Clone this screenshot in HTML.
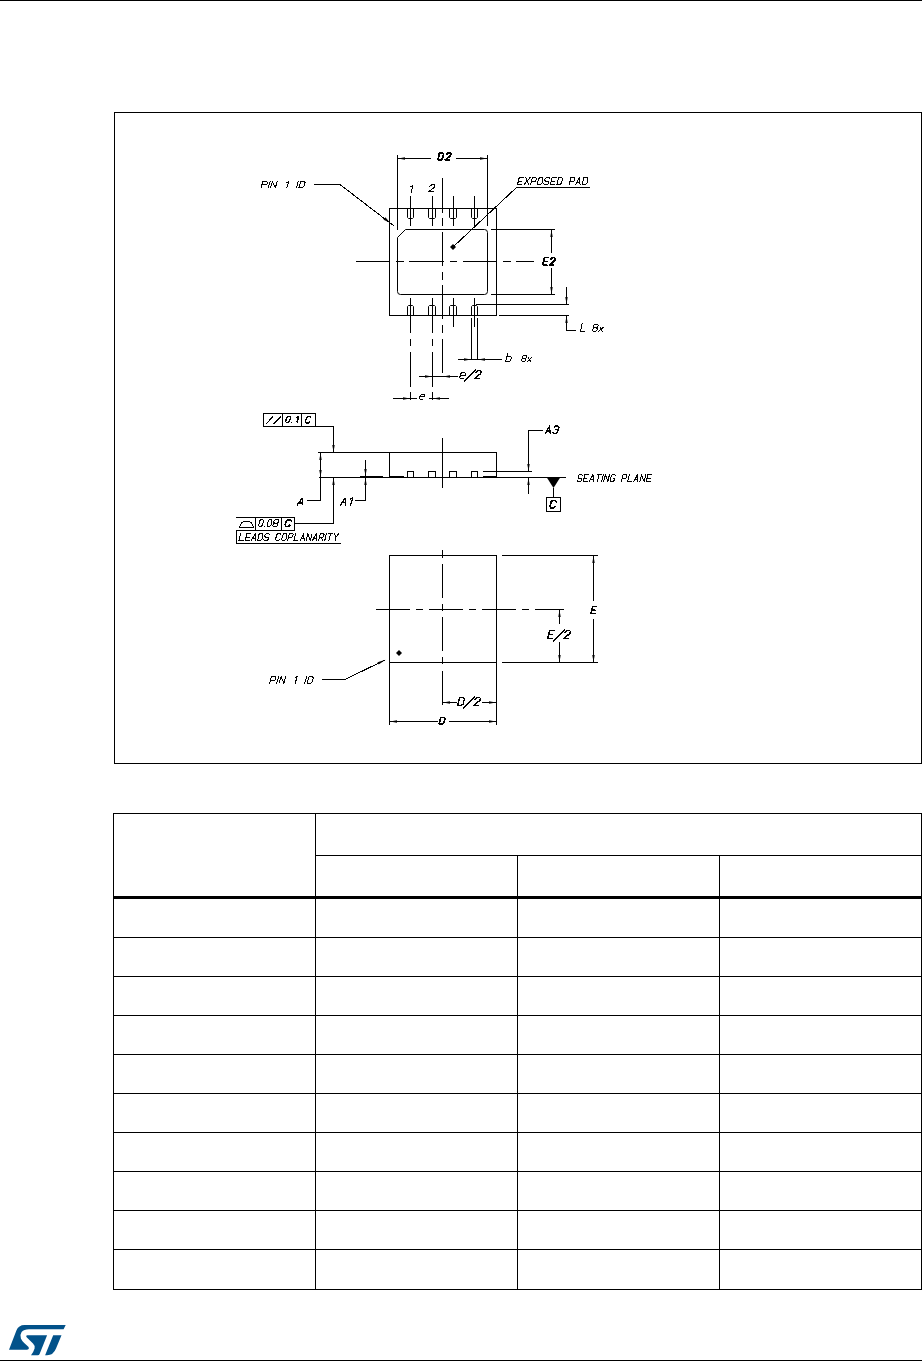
<!DOCTYPE html>
<html><head><meta charset="utf-8"><title>Package outline</title>
<style>
html,body{margin:0;padding:0;background:#fff;width:922px;height:1361px;overflow:hidden}
svg{position:absolute;left:0;top:0;display:block}
</style></head><body>
<svg width="922" height="1361" viewBox="0 0 922 1361"><g fill="#000"><rect x="0" y="0" width="922" height="1"/>
<rect x="0" y="1360" width="922" height="1"/>
<rect x="114" y="112" width="808" height="1"/>
<rect x="114" y="763" width="808" height="1"/>
<rect x="114" y="112" width="1" height="652"/>
<rect x="921" y="112" width="1" height="652"/>
<rect x="389" y="208" width="108" height="1"/>
<rect x="389" y="315" width="108" height="1"/>
<rect x="389" y="208" width="1" height="108"/>
<rect x="496" y="208" width="1" height="108"/>
<path d="M397.5,237.5 L405.5,229.5 L484.5,229.5 Q487.5,229.5 487.5,232.5 L487.5,291.5 Q487.5,294.5 484.5,294.5 L400.5,294.5 Q397.5,294.5 397.5,291.5 Z" fill="none" stroke="#000" stroke-width="1"/>
<path d="M407.5,208.5 L407.5,217.5 L408.5,218.5 L412.5,218.5 L413.5,217.5 L413.5,208.5" fill="none" stroke="#000" stroke-width="1"/>
<path d="M407.5,315.5 L407.5,306.5 L408.5,305.5 L412.5,305.5 L413.5,306.5 L413.5,315.5" fill="none" stroke="#000" stroke-width="1"/>
<path d="M428.5,208.5 L428.5,217.5 L429.5,218.5 L434.5,218.5 L435.5,217.5 L435.5,208.5" fill="none" stroke="#000" stroke-width="1"/>
<path d="M428.5,315.5 L428.5,306.5 L429.5,305.5 L434.5,305.5 L435.5,306.5 L435.5,315.5" fill="none" stroke="#000" stroke-width="1"/>
<path d="M449.5,208.5 L449.5,217.5 L450.5,218.5 L455.5,218.5 L456.5,217.5 L456.5,208.5" fill="none" stroke="#000" stroke-width="1"/>
<path d="M449.5,315.5 L449.5,306.5 L450.5,305.5 L455.5,305.5 L456.5,306.5 L456.5,315.5" fill="none" stroke="#000" stroke-width="1"/>
<path d="M471.5,208.5 L471.5,217.5 L472.5,218.5 L476.5,218.5 L477.5,217.5 L477.5,208.5" fill="none" stroke="#000" stroke-width="1"/>
<path d="M471.5,315.5 L471.5,306.5 L472.5,305.5 L476.5,305.5 L477.5,306.5 L477.5,315.5" fill="none" stroke="#000" stroke-width="1"/>
<rect x="410" y="196" width="1" height="30"/>
<rect x="432" y="196" width="1" height="30"/>
<rect x="453" y="196" width="1" height="30"/>
<rect x="474" y="196" width="1" height="30"/>
<rect x="453" y="298" width="1" height="29"/>
<rect x="474" y="298" width="1" height="29"/>
<rect x="410" y="298" width="1" height="35"/>
<rect x="410" y="339" width="1" height="7"/>
<rect x="410" y="352" width="1" height="35"/>
<rect x="410" y="392" width="1" height="8"/>
<rect x="432" y="298" width="1" height="35"/>
<rect x="432" y="339" width="1" height="7"/>
<rect x="432" y="352" width="1" height="35"/>
<rect x="432" y="392" width="1" height="8"/>
<rect x="442" y="178" width="1" height="35"/>
<rect x="442" y="218" width="1" height="8"/>
<rect x="442" y="232" width="1" height="34"/>
<rect x="442" y="272" width="1" height="8"/>
<rect x="442" y="285" width="1" height="34"/>
<rect x="442" y="325" width="1" height="8"/>
<rect x="442" y="339" width="1" height="34"/>
<rect x="356" y="261" width="34" height="1"/>
<rect x="396" y="261" width="8" height="1"/>
<rect x="409" y="261" width="35" height="1"/>
<rect x="450" y="261" width="7" height="1"/>
<rect x="463" y="261" width="34" height="1"/>
<rect x="503" y="261" width="8" height="1"/>
<rect x="516" y="261" width="18" height="1"/>
<rect x="397" y="155" width="1" height="75"/>
<rect x="487" y="155" width="1" height="71"/>
<rect x="397" y="158" width="34" height="1"/>
<rect x="456" y="158" width="32" height="1"/>
<polygon points="398,158.5 405,157.3 405,159.7"/>
<polygon points="487,158.5 480,157.3 480,159.7"/>
<rect x="491" y="229" width="64" height="1"/>
<rect x="491" y="294" width="64" height="1"/>
<rect x="551" y="230" width="1" height="23"/>
<rect x="551" y="268" width="1" height="27"/>
<polygon points="551.5,230 550.3,237 552.7,237"/>
<polygon points="551.5,294 550.3,287 552.7,287"/>
<rect x="476" y="304" width="93" height="1"/>
<rect x="499" y="315" width="70" height="1"/>
<rect x="566" y="287" width="1" height="18"/>
<rect x="566" y="315" width="1" height="16"/>
<rect x="566" y="330" width="10" height="1"/>
<polygon points="566.5,304 565.3,297 567.7,297"/>
<polygon points="566.5,316 565.3,323 567.7,323"/>
<rect x="471" y="318" width="1" height="42"/>
<rect x="477" y="318" width="1" height="42"/>
<rect x="458" y="359" width="44" height="1"/>
<polygon points="471,359.5 464,358.3 464,360.7"/>
<polygon points="478,359.5 485,358.3 485,360.7"/>
<rect x="419" y="376" width="39" height="1"/>
<polygon points="432,376.5 425,375.3 425,377.7"/>
<polygon points="443,376.5 450,375.3 450,377.7"/>
<rect x="393" y="398" width="24" height="1"/>
<rect x="429" y="398" width="20" height="1"/>
<polygon points="410,398.5 403,397.3 403,399.7"/>
<polygon points="433,398.5 440,397.3 440,399.7"/>
<path d="M314,184.5 L340,184.5 L394,226" fill="none" stroke="#000" stroke-width="1" shape-rendering="crispEdges"/>
<polygon points="390,222.8 383.5,219.7 385.4,217.3"/>
<rect x="516" y="187" width="74" height="1"/>
<path d="M516.5,187.5 L453,247" fill="none" stroke="#000" stroke-width="1" shape-rendering="crispEdges"/>
<polygon points="453,244 456,247 453,250 450,247"/>
<rect x="318" y="452" width="179" height="1"/>
<rect x="319" y="477" width="247" height="1"/>
<rect x="320" y="452" width="1" height="49"/>
<rect x="307" y="500" width="14" height="1"/>
<polygon points="320.5,453 319.3,460 321.7,460"/>
<polygon points="320.5,477 319.3,470 321.7,470"/>
<rect x="389" y="452" width="1" height="26"/>
<rect x="496" y="452" width="1" height="26"/>
<rect x="360" y="476" width="23" height="2"/>
<rect x="390" y="476" width="14" height="2"/>
<rect x="483" y="476" width="14" height="2"/>
<rect x="407" y="471" width="7" height="1"/>
<rect x="407" y="477" width="7" height="1"/>
<rect x="407" y="471" width="1" height="7"/>
<rect x="413" y="471" width="1" height="7"/>
<rect x="428" y="471" width="8" height="1"/>
<rect x="428" y="477" width="8" height="1"/>
<rect x="428" y="471" width="1" height="7"/>
<rect x="435" y="471" width="1" height="7"/>
<rect x="449" y="471" width="8" height="1"/>
<rect x="449" y="477" width="8" height="1"/>
<rect x="449" y="471" width="1" height="7"/>
<rect x="456" y="471" width="1" height="7"/>
<rect x="471" y="471" width="7" height="1"/>
<rect x="471" y="477" width="7" height="1"/>
<rect x="471" y="471" width="1" height="7"/>
<rect x="477" y="471" width="1" height="7"/>
<rect x="442" y="438" width="1" height="50"/>
<rect x="483" y="471" width="49" height="1"/>
<rect x="528" y="430" width="1" height="42"/>
<rect x="528" y="430" width="15" height="1"/>
<rect x="528" y="477" width="1" height="17"/>
<polygon points="528.5,471 527.3,464 529.7,464"/>
<polygon points="528.5,478 527.3,485 529.7,485"/>
<polygon points="546.5,477 560.5,477 553.5,488"/>
<rect x="553" y="488" width="1" height="10"/>
<rect x="546" y="497" width="15" height="1"/>
<rect x="546" y="511" width="15" height="1"/>
<rect x="546" y="497" width="1" height="15"/>
<rect x="560" y="497" width="1" height="15"/>
<rect x="263" y="413" width="53" height="1"/>
<rect x="263" y="426" width="53" height="1"/>
<rect x="263" y="413" width="1" height="14"/>
<rect x="315" y="413" width="1" height="14"/>
<rect x="282" y="413" width="1" height="14"/>
<rect x="301" y="413" width="1" height="14"/>
<path d="M266,424 L273,416.5" fill="none" stroke="#000" stroke-width="1" shape-rendering="crispEdges"/>
<path d="M273.5,424 L281,416.5" fill="none" stroke="#000" stroke-width="1" shape-rendering="crispEdges"/>
<rect x="315" y="426" width="19" height="1"/>
<rect x="333" y="426" width="1" height="27"/>
<polygon points="333.5,452 332.3,445 334.7,445"/>
<rect x="365" y="460" width="1" height="17"/>
<rect x="365" y="478" width="1" height="23"/>
<rect x="355" y="500" width="11" height="1"/>
<polygon points="365.5,476 364.3,469 366.7,469"/>
<polygon points="365.5,478 364.3,485 366.7,485"/>
<rect x="333" y="478" width="1" height="46"/>
<rect x="294" y="523" width="40" height="1"/>
<polygon points="333.5,478 332.3,485 334.7,485"/>
<rect x="236" y="517" width="59" height="1"/>
<rect x="236" y="530" width="59" height="1"/>
<rect x="236" y="543" width="105" height="1"/>
<rect x="236" y="530" width="1" height="14"/>
<rect x="255" y="517" width="1" height="14"/>
<rect x="281" y="517" width="1" height="14"/>
<rect x="294" y="517" width="1" height="14"/>
<path d="M239.5,527.5 C240.5,523.5 242,521.5 244.5,521.5 L248,521.5 C250.5,521.5 252.5,523.5 253.5,527.5 Z" fill="none" stroke="#000" stroke-width="1" shape-rendering="crispEdges"/>
<rect x="389" y="555" width="108" height="1"/>
<rect x="389" y="662" width="108" height="1"/>
<rect x="389" y="555" width="1" height="170"/>
<rect x="496" y="555" width="1" height="170"/>
<rect x="442" y="550" width="1" height="8"/>
<rect x="442" y="564" width="1" height="34"/>
<rect x="442" y="604" width="1" height="7"/>
<rect x="442" y="617" width="1" height="34"/>
<rect x="442" y="657" width="1" height="7"/>
<rect x="442" y="671" width="1" height="34"/>
<rect x="376" y="609" width="34" height="1"/>
<rect x="416" y="609" width="7" height="1"/>
<rect x="429" y="609" width="34" height="1"/>
<rect x="469" y="609" width="7" height="1"/>
<rect x="482" y="609" width="34" height="1"/>
<rect x="522" y="609" width="7" height="1"/>
<rect x="535" y="609" width="29" height="1"/>
<rect x="502" y="555" width="96" height="1"/>
<rect x="502" y="662" width="96" height="1"/>
<rect x="593" y="555" width="1" height="46"/>
<rect x="593" y="619" width="1" height="44"/>
<polygon points="593.5,556 592.3,563 594.7,563"/>
<polygon points="593.5,662 592.3,655 594.7,655"/>
<rect x="559" y="609" width="1" height="15"/>
<rect x="559" y="642" width="1" height="21"/>
<polygon points="559.5,610 558.3,617 560.7,617"/>
<polygon points="559.5,662 558.3,655 560.7,655"/>
<rect x="442" y="702" width="15" height="1"/>
<rect x="482" y="702" width="15" height="1"/>
<polygon points="443,702.5 450,701.3 450,703.7"/>
<polygon points="496,702.5 489,701.3 489,703.7"/>
<rect x="389" y="721" width="49" height="1"/>
<rect x="449" y="721" width="48" height="1"/>
<polygon points="390,721.5 397,720.3 397,722.7"/>
<polygon points="496,721.5 489,720.3 489,722.7"/>
<polygon points="399,650 402,653 399,656 396,653"/>
<path d="M322,679.5 L345,679.5 L385,660" fill="none" stroke="#000" stroke-width="1" shape-rendering="crispEdges"/>
<polygon points="385.5,659.8 377.5,662.2 378.7,664.6"/>
<rect x="113" y="813" width="809" height="1"/>
<rect x="113" y="1289" width="809" height="1"/>
<rect x="113" y="813" width="1" height="477"/>
<rect x="921" y="813" width="1" height="477"/>
<rect x="315" y="813" width="1" height="477"/>
<rect x="517" y="855" width="1" height="435"/>
<rect x="719" y="855" width="1" height="435"/>
<rect x="315" y="855" width="607" height="1"/>
<rect x="113" y="896" width="809" height="3"/>
<rect x="113" y="937" width="809" height="1"/>
<rect x="113" y="976" width="809" height="1"/>
<rect x="113" y="1015" width="809" height="1"/>
<rect x="113" y="1054" width="809" height="1"/>
<rect x="113" y="1093" width="809" height="1"/>
<rect x="113" y="1132" width="809" height="1"/>
<rect x="113" y="1171" width="809" height="1"/>
<rect x="113" y="1210" width="809" height="1"/>
<rect x="113" y="1249" width="809" height="1"/></g><g shape-rendering="crispEdges"><path d="M439.24,152.60 L442.30,152.60 L443.28,153.93 L442.19,158.37 L440.55,159.70 L437.50,159.70 L439.24,152.60 M446.22,154.38 L447.14,153.13 L448.40,152.60 L450.15,152.60 L450.80,153.49 L450.47,154.82 L449.60,155.88 L444.91,159.70 L449.27,159.70" fill="none" stroke="#000" stroke-width="1.0" stroke-linejoin="round" stroke-linecap="round"/>
<path d="M439.83,153.10 L442.86,153.10 L443.83,154.43 L442.75,158.87 L441.13,160.20 L438.10,160.20 L439.83,153.10 M446.76,154.88 L447.66,153.63 L448.92,153.10 L450.65,153.10 L451.30,153.99 L450.98,155.32 L450.11,156.38 L445.46,160.20 L449.79,160.20" fill="none" stroke="#000" stroke-width="1.0" stroke-linejoin="round" stroke-linecap="round"/>
<path d="M410.80,186.68 L413.00,185.40 L411.15,192.20" fill="none" stroke="#000" stroke-width="1.0" stroke-linejoin="round" stroke-linecap="round"/>
<path d="M429.90,186.45 L430.88,185.22 L432.23,184.70 L434.10,184.70 L434.80,185.57 L434.45,186.89 L433.52,187.94 L428.50,191.70 L433.17,191.70" fill="none" stroke="#000" stroke-width="1.0" stroke-linejoin="round" stroke-linecap="round"/>
<path d="M548.43,257.40 L544.19,257.40 L542.50,264.80 L546.74,264.80 M543.35,261.10 L546.74,261.10 M550.55,259.25 L551.44,257.95 L552.67,257.40 L554.36,257.40 L555.00,258.32 L554.68,259.71 L553.83,260.82 L549.28,264.80 L553.52,264.80" fill="none" stroke="#000" stroke-width="1.0" stroke-linejoin="round" stroke-linecap="round"/>
<path d="M548.98,257.90 L544.78,257.90 L543.10,265.30 L547.30,265.30 M543.94,261.60 L547.30,261.60 M551.09,259.75 L551.97,258.45 L553.19,257.90 L554.87,257.90 L555.50,258.82 L555.18,260.21 L554.34,261.32 L549.83,265.30 L554.03,265.30" fill="none" stroke="#000" stroke-width="1.0" stroke-linejoin="round" stroke-linecap="round"/>
<path d="M582.16,323.40 L580.60,331.40 L584.50,331.40" fill="none" stroke="#000" stroke-width="1.0" stroke-linejoin="round" stroke-linecap="round"/>
<path d="M594.90,324.50 L597.51,324.50 L598.17,325.36 L597.73,327.09 L596.64,327.95 L594.03,327.95 L593.37,327.09 L593.81,325.36 L594.90,324.50 M594.03,327.95 L592.94,328.81 L592.50,330.54 L593.15,331.40 L595.77,331.40 L596.86,330.54 L597.30,328.81 L596.64,327.95 M599.91,327.09 L602.31,331.40 M603.40,327.09 L598.82,331.40" fill="none" stroke="#000" stroke-width="1.0" stroke-linejoin="round" stroke-linecap="round"/>
<path d="M507.53,353.60 L505.60,361.40 L509.47,361.40 L510.67,360.42 L511.40,357.50 L510.67,356.52 L506.81,356.52" fill="none" stroke="#000" stroke-width="1.0" stroke-linejoin="round" stroke-linecap="round"/>
<path d="M523.78,355.50 L526.15,355.50 L526.75,356.24 L526.35,357.71 L525.36,358.45 L522.99,358.45 L522.39,357.71 L522.79,356.24 L523.78,355.50 M522.99,358.45 L522.00,359.19 L521.60,360.66 L522.19,361.40 L524.57,361.40 L525.56,360.66 L525.96,359.19 L525.36,358.45 M528.33,357.71 L530.51,361.40 M531.50,357.71 L527.34,361.40" fill="none" stroke="#000" stroke-width="1.0" stroke-linejoin="round" stroke-linecap="round"/>
<path d="M460.09,375.45 L464.95,375.45 L465.31,373.96 L464.71,372.48 L461.79,372.48 L460.45,373.96 L459.60,377.43 L460.33,378.42 L463.25,378.42 M464.54,381.10 L475.63,369.60 M475.89,372.48 L476.91,371.09 L478.32,370.49 L480.27,370.49 L481.00,371.48 L480.64,372.97 L479.66,374.16 L474.43,378.42 L479.30,378.42" fill="none" stroke="#000" stroke-width="1.0" stroke-linejoin="round" stroke-linecap="round"/>
<path d="M460.39,375.75 L465.25,375.75 L465.61,374.26 L465.01,372.78 L462.09,372.78 L460.75,374.26 L459.90,377.73 L460.63,378.72 L463.55,378.72 M464.84,381.40 L475.93,369.90 M476.19,372.78 L477.21,371.39 L478.62,370.79 L480.57,370.79 L481.30,371.78 L480.94,373.27 L479.96,374.46 L474.73,378.72 L479.60,378.72" fill="none" stroke="#000" stroke-width="1.0" stroke-linejoin="round" stroke-linecap="round"/>
<path d="M419.93,396.85 L424.18,396.85 L424.50,395.68 L423.97,394.50 L421.41,394.50 L420.24,395.68 L419.50,398.42 L420.14,399.20 L422.69,399.20" fill="none" stroke="#000" stroke-width="1.0" stroke-linejoin="round" stroke-linecap="round"/>
<path d="M261.00,187.70 L262.91,181.50 L266.74,181.50 L267.45,182.28 L266.86,184.21 L265.66,184.99 L261.84,184.99 M270.08,181.50 L268.17,187.70 M270.56,187.70 L272.47,181.50 L275.34,187.70 L277.25,181.50 M286.46,182.66 L288.73,181.50 L286.81,187.70 M298.29,181.50 L296.38,187.70 M300.68,181.50 L304.02,181.50 L305.10,182.66 L303.90,186.54 L302.11,187.70 L298.77,187.70 L300.68,181.50" fill="none" stroke="#000" stroke-width="1.0" stroke-linejoin="round" stroke-linecap="round"/>
<path d="M523.62,177.50 L519.25,177.50 L517.50,184.50 L521.87,184.50 M518.37,181.00 L521.87,181.00 M525.81,177.50 L528.43,184.50 M530.18,177.50 L524.06,184.50 M530.62,184.50 L532.37,177.50 L535.86,177.50 L536.52,178.38 L535.97,180.56 L534.88,181.44 L531.38,181.44 M539.80,177.50 L542.42,177.50 L542.97,178.81 L541.87,183.19 L540.67,184.50 L538.05,184.50 L537.50,183.19 L538.60,178.81 L539.80,177.50 M549.63,178.38 L548.98,177.50 L546.36,177.50 L545.26,178.38 L544.83,180.12 L545.48,181.00 L548.10,181.00 L548.76,181.88 L548.32,183.62 L547.23,184.50 L544.61,184.50 L543.95,183.62 M556.41,177.50 L552.04,177.50 L550.29,184.50 L554.66,184.50 M551.17,181.00 L554.66,181.00 M558.60,177.50 L561.66,177.50 L562.64,178.81 L561.55,183.19 L559.91,184.50 L556.85,184.50 L558.60,177.50 M569.09,184.50 L570.84,177.50 L574.34,177.50 L574.99,178.38 L574.45,180.56 L573.35,181.44 L569.86,181.44 M575.65,184.50 L579.58,177.50 L580.02,184.50 M577.07,182.31 L579.69,182.31 M583.96,177.50 L587.02,177.50 L588.00,178.81 L586.91,183.19 L585.27,184.50 L582.21,184.50 L583.96,177.50" fill="none" stroke="#000" stroke-width="1.0" stroke-linejoin="round" stroke-linecap="round"/>
<path d="M545.20,433.10 L549.49,425.90 L549.97,433.10 M546.75,430.85 L549.61,430.85 M554.03,426.80 L555.22,425.90 L558.08,425.90 L558.80,426.80 L558.32,428.60 L557.13,429.50 L555.22,429.50 M557.13,429.50 L557.85,430.40 L557.37,432.20 L556.18,433.10 L553.31,433.10 L552.60,432.20" fill="none" stroke="#000" stroke-width="1.0" stroke-linejoin="round" stroke-linecap="round"/>
<path d="M545.50,433.40 L549.79,426.20 L550.27,433.40 M547.05,431.15 L549.91,431.15 M554.33,427.10 L555.52,426.20 L558.38,426.20 L559.10,427.10 L558.62,428.90 L557.43,429.80 L555.52,429.80 M557.43,429.80 L558.15,430.70 L557.67,432.50 L556.48,433.40 L553.61,433.40 L552.90,432.50" fill="none" stroke="#000" stroke-width="1.0" stroke-linejoin="round" stroke-linecap="round"/>
<path d="M555.90,501.77 L555.27,500.40 L552.25,500.40 L550.86,501.77 L549.60,506.33 L550.23,507.70 L553.25,507.70 L554.64,506.33" fill="none" stroke="#000" stroke-width="1.0" stroke-linejoin="round" stroke-linecap="round"/>
<path d="M556.40,502.27 L555.77,500.90 L552.75,500.90 L551.36,502.27 L550.10,506.83 L550.73,508.20 L553.75,508.20 L555.14,506.83" fill="none" stroke="#000" stroke-width="1.0" stroke-linejoin="round" stroke-linecap="round"/>
<path d="M582.46,475.55 L581.84,474.70 L579.37,474.70 L578.34,475.55 L577.92,477.25 L578.54,478.10 L581.02,478.10 L581.63,478.95 L581.22,480.65 L580.19,481.50 L577.72,481.50 L577.10,480.65 M588.85,474.70 L584.72,474.70 L583.08,481.50 L587.20,481.50 M583.90,478.10 L587.20,478.10 M589.26,481.50 L592.97,474.70 L593.38,481.50 M590.60,479.38 L593.07,479.38 M597.09,474.70 L601.21,474.70 M599.15,474.70 L597.50,481.50 M603.27,474.70 L601.62,481.50 M603.68,481.50 L605.33,474.70 L607.80,481.50 L609.45,474.70 M615.32,475.97 L614.81,474.70 L612.34,474.70 L611.20,475.97 L610.17,480.23 L610.69,481.50 L613.16,481.50 L614.29,480.23 L614.71,478.52 L613.06,478.52 M621.40,481.50 L623.05,474.70 L626.35,474.70 L626.97,475.55 L626.45,477.68 L625.42,478.52 L622.12,478.52 M629.23,474.70 L627.58,481.50 L631.71,481.50 M633.77,481.50 L637.48,474.70 L637.89,481.50 M635.11,479.38 L637.58,479.38 M639.95,481.50 L641.60,474.70 L644.07,481.50 L645.72,474.70 M651.90,474.70 L647.78,474.70 L646.13,481.50 L650.25,481.50 M646.95,478.10 L650.25,478.10" fill="none" stroke="#000" stroke-width="1.0" stroke-linejoin="round" stroke-linecap="round"/>
<path d="M287.96,416.50 L289.91,416.50 L290.52,417.55 L289.30,421.05 L287.96,422.10 L286.01,422.10 L285.40,421.05 L286.62,417.55 L287.96,416.50 M296.38,417.55 L298.70,416.50 L296.75,422.10" fill="none" stroke="#000" stroke-width="1.0" stroke-linejoin="round" stroke-linecap="round"/><rect x="291" y="422" width="1" height="1" fill="#000"/>
<path d="M288.26,416.80 L290.21,416.80 L290.82,417.85 L289.60,421.35 L288.26,422.40 L286.31,422.40 L285.70,421.35 L286.92,417.85 L288.26,416.80 M296.68,417.85 L299.00,416.80 L297.05,422.40" fill="none" stroke="#000" stroke-width="1.0" stroke-linejoin="round" stroke-linecap="round"/>
<path d="M310.90,417.78 L310.33,416.60 L307.59,416.60 L306.34,417.78 L305.20,421.72 L305.77,422.90 L308.51,422.90 L309.76,421.72" fill="none" stroke="#000" stroke-width="1.0" stroke-linejoin="round" stroke-linecap="round"/>
<path d="M311.20,418.08 L310.63,416.90 L307.89,416.90 L306.64,418.08 L305.50,422.02 L306.07,423.20 L308.81,423.20 L310.06,422.02" fill="none" stroke="#000" stroke-width="1.0" stroke-linejoin="round" stroke-linecap="round"/>
<path d="M296.90,505.00 L302.12,497.90 L302.70,505.00 M298.78,502.78 L302.26,502.78" fill="none" stroke="#000" stroke-width="1.0" stroke-linejoin="round" stroke-linecap="round"/>
<path d="M297.20,505.30 L302.42,498.20 L303.00,505.30 M299.08,503.08 L302.56,503.08" fill="none" stroke="#000" stroke-width="1.0" stroke-linejoin="round" stroke-linecap="round"/>
<path d="M340.20,504.90 L345.05,497.80 L345.59,504.90 M341.95,502.68 L345.19,502.68 M350.04,499.13 L352.60,497.80 L350.44,504.90" fill="none" stroke="#000" stroke-width="1.0" stroke-linejoin="round" stroke-linecap="round"/>
<path d="M340.50,505.20 L345.35,498.10 L345.89,505.20 M342.25,502.98 L345.49,502.98 M350.34,499.43 L352.90,498.10 L350.74,505.20" fill="none" stroke="#000" stroke-width="1.0" stroke-linejoin="round" stroke-linecap="round"/>
<path d="M261.09,519.60 L262.99,519.60 L263.59,520.89 L262.40,525.21 L261.09,526.50 L259.19,526.50 L258.60,525.21 L259.79,520.89 L261.09,519.60 M269.64,519.60 L271.54,519.60 L272.13,520.89 L270.95,525.21 L269.64,526.50 L267.74,526.50 L267.15,525.21 L268.33,520.89 L269.64,519.60 M275.34,519.60 L278.19,519.60 L278.90,520.46 L278.43,522.19 L277.24,523.05 L274.39,523.05 L273.68,522.19 L274.15,520.46 L275.34,519.60 M274.39,523.05 L273.20,523.91 L272.73,525.64 L273.44,526.50 L276.29,526.50 L277.48,525.64 L277.95,523.91 L277.24,523.05" fill="none" stroke="#000" stroke-width="1.0" stroke-linejoin="round" stroke-linecap="round"/><rect x="264" y="526" width="1" height="1" fill="#000"/>
<path d="M291.00,520.72 L290.37,519.50 L287.35,519.50 L285.96,520.72 L284.70,524.78 L285.33,526.00 L288.35,526.00 L289.74,524.78" fill="none" stroke="#000" stroke-width="1.0" stroke-linejoin="round" stroke-linecap="round"/>
<path d="M291.50,521.22 L290.87,520.00 L287.85,520.00 L286.46,521.22 L285.20,525.28 L285.83,526.50 L288.85,526.50 L290.24,525.28" fill="none" stroke="#000" stroke-width="1.0" stroke-linejoin="round" stroke-linecap="round"/>
<path d="M240.65,533.70 L239.00,540.50 L243.12,540.50 M250.96,533.70 L246.84,533.70 L245.19,540.50 L249.31,540.50 M246.01,537.10 L249.31,537.10 M251.37,540.50 L255.08,533.70 L255.50,540.50 M252.71,538.38 L255.19,538.38 M259.21,533.70 L262.09,533.70 L263.02,534.98 L261.99,539.23 L260.44,540.50 L257.56,540.50 L259.21,533.70 M269.31,534.55 L268.69,533.70 L266.22,533.70 L265.19,534.55 L264.77,536.25 L265.39,537.10 L267.87,537.10 L268.49,537.95 L268.07,539.65 L267.04,540.50 L264.57,540.50 L263.95,539.65 M280.76,534.98 L280.24,533.70 L277.77,533.70 L276.63,534.98 L275.60,539.23 L276.12,540.50 L278.59,540.50 L279.72,539.23 M283.95,533.70 L286.43,533.70 L286.94,534.98 L285.91,539.23 L284.78,540.50 L282.30,540.50 L281.79,539.23 L282.82,534.98 L283.95,533.70 M287.66,540.50 L289.31,533.70 L292.61,533.70 L293.23,534.55 L292.71,536.68 L291.68,537.52 L288.38,537.52 M295.50,533.70 L293.85,540.50 L297.97,540.50 M300.03,540.50 L303.75,533.70 L304.16,540.50 M301.38,538.38 L303.85,538.38 M306.22,540.50 L307.87,533.70 L310.34,540.50 L311.99,533.70 M312.41,540.50 L316.12,533.70 L316.53,540.50 M313.75,538.38 L316.22,538.38 M318.59,540.50 L320.24,533.70 L323.54,533.70 L324.16,534.55 L323.64,536.68 L322.61,537.52 L319.31,537.52 M321.38,537.52 L322.72,540.50 M326.43,533.70 L324.78,540.50 M328.49,533.70 L332.61,533.70 M330.55,533.70 L328.90,540.50 M334.68,533.70 L335.91,537.10 L338.80,533.70 M335.91,537.10 L335.09,540.50" fill="none" stroke="#000" stroke-width="1.0" stroke-linejoin="round" stroke-linecap="round"/>
<path d="M596.60,606.30 L592.46,606.30 L590.80,613.20 L594.94,613.20 M591.63,609.75 L594.94,609.75" fill="none" stroke="#000" stroke-width="1.0" stroke-linejoin="round" stroke-linecap="round"/>
<path d="M597.10,606.80 L592.96,606.80 L591.30,613.70 L595.44,613.70 M592.13,610.25 L595.44,610.25" fill="none" stroke="#000" stroke-width="1.0" stroke-linejoin="round" stroke-linecap="round"/>
<path d="M554.67,630.39 L549.55,630.39 L547.50,638.32 L552.62,638.32 M548.52,634.36 L552.62,634.36 M552.96,641.00 L564.64,629.50 M564.92,632.38 L566.00,630.99 L567.48,630.39 L569.53,630.39 L570.30,631.38 L569.92,632.87 L568.89,634.06 L563.38,638.32 L568.51,638.32" fill="none" stroke="#000" stroke-width="1.0" stroke-linejoin="round" stroke-linecap="round"/>
<path d="M554.97,630.69 L549.85,630.69 L547.80,638.62 L552.92,638.62 M548.82,634.66 L552.92,634.66 M553.26,641.30 L564.94,629.80 M565.22,632.67 L566.30,631.29 L567.78,630.69 L569.83,630.69 L570.60,631.68 L570.22,633.17 L569.19,634.36 L563.68,638.62 L568.81,638.62" fill="none" stroke="#000" stroke-width="1.0" stroke-linejoin="round" stroke-linecap="round"/>
<path d="M459.55,697.30 L463.14,697.30 L464.29,698.80 L463.01,703.80 L461.09,705.30 L457.50,705.30 L459.55,697.30 M462.96,708.00 L474.64,696.40 M474.92,699.30 L476.00,697.90 L477.48,697.30 L479.53,697.30 L480.30,698.30 L479.92,699.80 L478.89,701.00 L473.38,705.30 L478.51,705.30" fill="none" stroke="#000" stroke-width="1.0" stroke-linejoin="round" stroke-linecap="round"/>
<path d="M459.85,697.60 L463.44,697.60 L464.59,699.10 L463.31,704.10 L461.39,705.60 L457.80,705.60 L459.85,697.60 M463.26,708.30 L474.94,696.70 M475.22,699.60 L476.30,698.20 L477.78,697.60 L479.83,697.60 L480.60,698.60 L480.22,700.10 L479.19,701.30 L473.68,705.60 L478.81,705.60" fill="none" stroke="#000" stroke-width="1.0" stroke-linejoin="round" stroke-linecap="round"/>
<path d="M440.64,717.20 L443.86,717.20 L444.90,718.42 L443.75,722.48 L442.02,723.70 L438.80,723.70 L440.64,717.20" fill="none" stroke="#000" stroke-width="1.0" stroke-linejoin="round" stroke-linecap="round"/>
<path d="M441.14,717.70 L444.36,717.70 L445.40,718.92 L444.25,722.98 L442.52,724.20 L439.30,724.20 L441.14,717.70" fill="none" stroke="#000" stroke-width="1.0" stroke-linejoin="round" stroke-linecap="round"/>
<path d="M269.60,683.20 L271.50,676.60 L275.30,676.60 L276.01,677.43 L275.42,679.49 L274.23,680.31 L270.43,680.31 M278.62,676.60 L276.72,683.20 M279.10,683.20 L281.00,676.60 L283.84,683.20 L285.74,676.60 M294.88,677.84 L297.14,676.60 L295.24,683.20 M306.63,676.60 L304.73,683.20 M309.01,676.60 L312.33,676.60 L313.40,677.84 L312.21,681.96 L310.43,683.20 L307.11,683.20 L309.01,676.60" fill="none" stroke="#000" stroke-width="1.0" stroke-linejoin="round" stroke-linecap="round"/></g><g fill="#02528a">
<path d="M9,1349.8 L16.4,1330.5 Q18.6,1325 24.5,1325 L65.7,1325 L63.6,1329.2 L29,1329.2 Q24,1329.2 21.6,1332 Q19.6,1335 20.9,1338.4 Q22,1341 24.2,1342.9 L28.3,1346.8 Q29.4,1348.1 28.6,1349.1 Q28,1349.8 26.8,1349.8 Z"/>
<path d="M27.2,1335.2 L47.1,1335.2 L39.6,1354 Q39.1,1355.3 37.6,1355.3 L31,1355.3 Q33.6,1352 34.6,1348.6 Q35.4,1345.6 33,1343.4 L26.9,1337.6 Q25.9,1336.4 26.3,1335.8 Q26.6,1335.2 27.2,1335.2 Z"/>
<path d="M53.2,1335.2 L61.5,1335.2 L56,1348.6 Q53.4,1355.3 47,1355.3 L45.1,1355.3 Z"/>
</g></svg>
</body></html>
